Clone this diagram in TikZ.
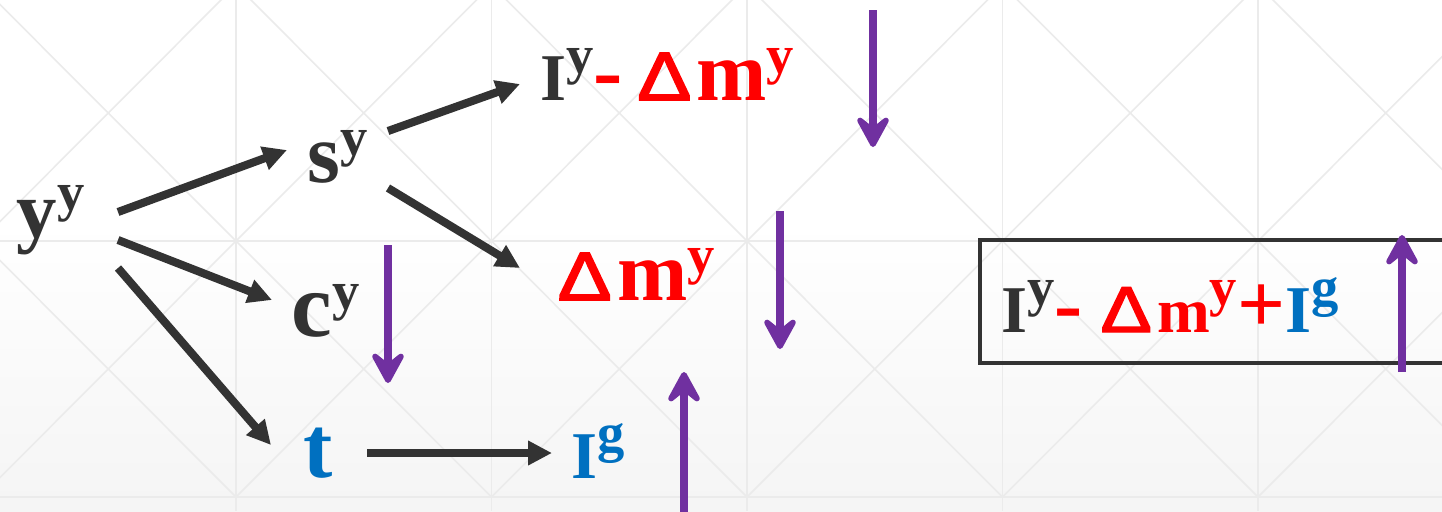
\documentclass[tikz,border=0pt]{standalone}
\usepackage{fontspec}
\usepackage{graphicx}
\setmainfont{Liberation Serif}
\newfontfamily\dsans[FakeBold=2.2]{Liberation Sans}
\usetikzlibrary{arrows.meta}
\definecolor{dk}{HTML}{333333}
\definecolor{rd}{HTML}{FF0000}
\definecolor{bl}{HTML}{0070C0}
\definecolor{pu}{HTML}{7030A0}
\definecolor{gridc}{HTML}{EBEBEB}
\newcommand\fs[1]{\fontsize{#1}{#1}\selectfont}
\newcommand\sups[1]{\raisebox{7.6pt}{\fs{15.5}#1}}
\newcommand\wDelta[1]{\scalebox{1.18}[1]{\dsans\mdseries\fs{#1}Δ}\kern1.5pt}
\begin{document}
\begin{tikzpicture}[x=0.01cm,y=-0.01cm,
  lbl/.style={inner sep=0pt, anchor=base west, font=\bfseries},
  arr/.style={draw=dk, line width=2.3pt, -{Triangle[length=6.8pt,width=6.6pt]}},
  parr/.style={draw=pu, line width=2pt, -{Stealth[length=11.5pt,width=12.5pt,inset=5pt,round]}},
  gridl/.style={draw=gridc, line width=0.45pt}]
\clip (0,0) rectangle (1442,511);
\fill[white] (0,0) rectangle (1442,511);
\shade[top color=white,bottom color=black!4] (0,220) rectangle (1442,511);
% background grid
\foreach \x in {236,491.5,747,1002.5,1258} \draw[gridl] (\x,0) -- (\x,511);
\foreach \y in {241,497} \draw[gridl] (0,\y) -- (1442,\y);
\foreach \i in {-1,...,5} \foreach \j in {-1,0,1} {
  \draw[gridl] ({-19.5+255.5*\i},{-15+256*\j}) -- ++(255.5,256);
  \draw[gridl] ({-19.5+255.5*(\i+1)},{-15+256*\j}) -- ++(-255.5,256);
}
% labels
\node[lbl,text=dk] (yy) at (16,237) {\fs{23}y\sups{y}};
\node[lbl,text=dk] (sy) at (307,182) {\fs{24}s\sups{y}};
\node[lbl,text=dk] (cy) at (291,336) {\fs{26}c\sups{y}};
\node[lbl,text=bl] (t) at (303,477) {\fs{25}t};
\node[lbl,text=bl] (ig) at (571,478) {\fs{19}I\sups{g}};
\node[lbl,text=dk] (iy) at (540,100) {\fs{19}I\sups{y}\textcolor{rd}{\fs{25}-\kern4pt\wDelta{19.5}\fs{24}m\sups{y}}};
\node[lbl,text=rd] (dm) at (557,300) {\wDelta{19.5}\fs{24}m\sups{y}};
% result box
\draw[dk, line width=1pt] (980,240) rectangle (1460,363);
\node[lbl,text=dk] (res) at (1001,332) {\fs{19}I\sups{y}\textcolor{rd}{\fs{24}-\kern5pt\wDelta{18.5}\fs{18}m\sups{y}\fs{24}+}\textcolor{bl}{\fs{19}I\sups{g}}};
% black connectors
\draw[arr] ([shift={(102,-25)}]yy.base west) -- ([shift={(-20,-32)}]sy.base west);
\draw[arr] ([shift={(81,-51)}]sy.base west) -- ([shift={(-20,-16)}]iy.base west);
\draw[arr] ([shift={(81,6)}]sy.base west) -- ([shift={(-37,-32)}]dm.base west);
\draw[arr] ([shift={(102,3)}]yy.base west) -- ([shift={(-19,-36)}]cy.base west);
\draw[arr] ([shift={(102,31)}]yy.base west) -- ([shift={(-32,-32)}]t.base west);
\draw[arr] ([shift={(64,-24)}]t.base west) -- ([shift={(-19,-25)}]ig.base west);
% purple change arrows
\draw[parr] (873,10) -- (873,147);
\draw[parr] (780,211) -- (780,349);
\draw[parr] (388,245) -- (388,383);
\draw[parr] (684,520) -- (684,372);
\draw[parr] (1402,372) -- (1402,235);
\end{tikzpicture}
\end{document}
